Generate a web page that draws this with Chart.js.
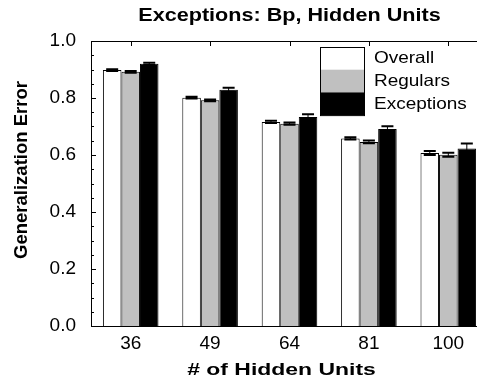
<!DOCTYPE html>
<html>
<head>
<meta charset="utf-8">
<script src="https://cdn.jsdelivr.net/npm/chart.js@4/dist/chart.umd.min.js"></script>
<style>
  html, body { margin: 0; padding: 0; background: #fff; overflow: hidden; }
  #wrap { width: 492px; height: 383px; position: relative; }
</style>
</head>
<body>
<div id="wrap"><canvas id="chart"></canvas></div>
<script>
// Number of hidden units on the x axis
const hiddenUnits = ['36', '49', '64', '81', '100'];

// Mean generalization error per condition
const overallError    = [0.898, 0.801, 0.716, 0.658, 0.607];
const regularsError   = [0.892, 0.792, 0.710, 0.646, 0.601];
const exceptionsError = [0.920, 0.829, 0.733, 0.691, 0.623];

// Standard errors
const overallSE    = [0.003, 0.003, 0.004, 0.004, 0.007];
const regularsSE   = [0.003, 0.003, 0.004, 0.005, 0.007];
const exceptionsSE = [0.004, 0.007, 0.010, 0.010, 0.017];

const seriesNames = ['Overall', 'Regulars', 'Exceptions'];
const seriesFill  = ['#ffffff', '#c0c0c0', '#000000'];

const FONT = '"Liberation Sans", Arial, Helvetica, sans-serif';

// draw text widened horizontally by factor sx around anchor (x, y)
function wideText(ctx, text, x, y, font, sx, align) {
  ctx.save();
  ctx.font = font;
  ctx.textAlign = align || 'center';
  ctx.textBaseline = 'middle';
  ctx.translate(x, y);
  ctx.scale(sx, 1);
  ctx.fillText(text, 0, 0);
  ctx.restore();
}

const errorBars = {
  id: 'errorBars',
  afterDatasetsDraw(chart) {
    const ctx = chart.ctx;
    const y = chart.scales.y;
    ctx.save();
    ctx.strokeStyle = '#000';
    chart.data.datasets.forEach((ds, di) => {
      const meta = chart.getDatasetMeta(di);
      meta.data.forEach((bar, i) => {
        const v = ds.data[i], e = ds.errors[i];
        const yHi = y.getPixelForValue(v + e);
        const yLo = y.getPixelForValue(v - e);
        ctx.lineWidth = 1;
        ctx.beginPath();
        ctx.moveTo(bar.x, yHi);
        ctx.lineTo(bar.x, yLo);
        ctx.stroke();
        ctx.lineWidth = 2;
        ctx.beginPath();
        ctx.moveTo(bar.x - 6, yHi); ctx.lineTo(bar.x + 6, yHi);
        ctx.moveTo(bar.x - 6, yLo); ctx.lineTo(bar.x + 6, yLo);
        ctx.stroke();
      });
    });
    ctx.restore();
  }
};

const frameAndText = {
  id: 'frameAndText',
  afterDraw(chart) {
    const ctx = chart.ctx;
    const a = chart.chartArea;
    const y = chart.scales.y, x = chart.scales.x;
    ctx.save();
    ctx.strokeStyle = '#000';
    ctx.fillStyle = '#000';
    ctx.lineWidth = 1;
    ctx.strokeRect(a.left + 0.5, a.top + 0.5, a.right - a.left, a.bottom - a.top);
    ctx.beginPath();
    // inward ticks on the value axis: major every 0.2, minor every 0.05
    for (let k = 0; k <= 20; k++) {
      const py = Math.round(y.getPixelForValue(k * 0.05)) + 0.5;
      const len = (k % 4 === 0) ? 5 : 3;
      ctx.moveTo(a.left, py); ctx.lineTo(a.left + len, py);
    }
    // inward ticks along the top edge at each category
    hiddenUnits.forEach((_, i) => {
      const px = Math.round(x.getPixelForValue(i)) + 0.5;
      ctx.moveTo(px, a.top); ctx.lineTo(px, a.top + 5);
    });
    ctx.stroke();

    const cx = (a.left + a.right) / 2;
    // chart title
    wideText(ctx, 'Exceptions: Bp, Hidden Units', cx, 16, 'bold 18px ' + FONT, 1.2);
    // x axis title
    wideText(ctx, '# of Hidden Units', cx - 8, 370, 'bold 17px ' + FONT, 1.35);
    // y axis title
    ctx.save();
    ctx.translate(22, 170);
    ctx.rotate(-Math.PI / 2);
    ctx.font = 'bold 18.5px ' + FONT;
    ctx.textAlign = 'center';
    ctx.textBaseline = 'middle';
    ctx.fillText('Generalization Error', 0, 0);
    ctx.restore();

    // stacked-swatch legend in the upper right of the plot
    const lx = a.left + 229, ly = a.top + 6, sw = 44, sh = 22.7;
    seriesNames.forEach((name, i) => {
      ctx.fillStyle = seriesFill[i];
      ctx.fillRect(lx, ly + i * sh, sw, sh);
      ctx.fillStyle = '#000';
      wideText(ctx, name, lx + sw + 10, ly + i * sh + sh / 2 + 0.5, '16.5px ' + FONT, 1.15, 'left');
    });
    ctx.strokeRect(lx + 0.5, ly + 0.5, sw, sh * 3);
    ctx.restore();
  }
};

new Chart(document.getElementById('chart'), {
  type: 'bar',
  data: {
    labels: hiddenUnits,
    datasets: [
      { label: seriesNames[0], data: overallError,    errors: overallSE },
      { label: seriesNames[1], data: regularsError,   errors: regularsSE },
      { label: seriesNames[2], data: exceptionsError, errors: exceptionsSE }
    ].map((d, i) => Object.assign(d, {
      backgroundColor: seriesFill[i],
      borderColor: '#000',
      borderWidth: 1,
      categoryPercentage: 0.7,
      barPercentage: 1.0
    }))
  },
  options: {
    responsive: true,
    maintainAspectRatio: false,
    animation: false,
    layout: { padding: { top: 41, right: 4, left: 0, bottom: 0 } },
    plugins: { legend: { display: false }, title: { display: false }, tooltip: { enabled: false } },
    scales: {
      x: {
        grid: { display: false, drawTicks: false },
        border: { display: false },
        ticks: { color: '#000', font: { family: FONT, size: 19 }, padding: 6 },
        afterFit(s) { s.height = 57; }
      },
      y: {
        min: 0, max: 1,
        grid: { display: false, drawTicks: false },
        border: { display: false },
        ticks: { stepSize: 0.2, color: '#000', font: { family: FONT, size: 19 }, padding: 15,
                 callback: v => Number(v).toFixed(1) },
        afterFit(s) { s.width = 91; }
      }
    }
  },
  plugins: [errorBars, frameAndText]
});
</script>
</body>
</html>
